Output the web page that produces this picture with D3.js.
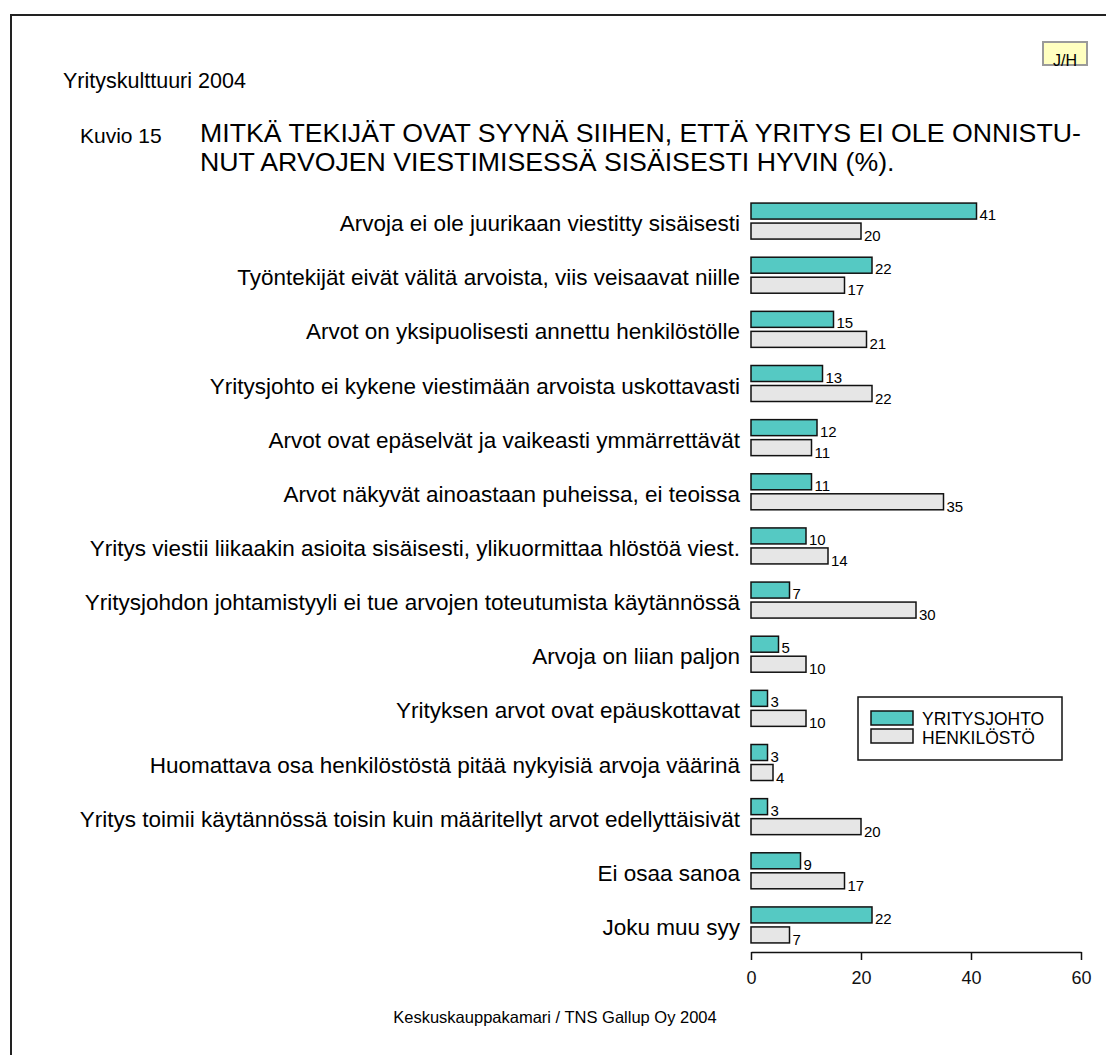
<!DOCTYPE html>
<html>
<head>
<meta charset="utf-8">
<script src="https://cdn.jsdelivr.net/npm/d3@7"></script>
<style>
  body { margin: 0; background: #fff; }
  svg { display: block; font-family: "Liberation Sans", Arial, sans-serif; }
</style>
</head>
<body>
<svg class="graph" width="1106" height="1055"></svg>
<script>
// categories (top to bottom)
const categories = [
    'Arvoja ei ole juurikaan viestitty sisäisesti',
    'Työntekijät eivät välitä arvoista, viis veisaavat niille',
    'Arvot on yksipuolisesti annettu henkilöstölle',
    'Yritysjohto ei kykene viestimään arvoista uskottavasti',
    'Arvot ovat epäselvät ja vaikeasti ymmärrettävät',
    'Arvot näkyvät ainoastaan puheissa, ei teoissa',
    'Yritys viestii liikaakin asioita sisäisesti, ylikuormittaa hlöstöä viest.',
    'Yritysjohdon johtamistyyli ei tue arvojen toteutumista käytännössä',
    'Arvoja on liian paljon',
    'Yrityksen arvot ovat epäuskottavat',
    'Huomattava osa henkilöstöstä pitää nykyisiä arvoja väärinä',
    'Yritys toimii käytännössä toisin kuin määritellyt arvot edellyttäisivät',
    'Ei osaa sanoa',
    'Joku muu syy'
];

const seriesNames = ['YRITYSJOHTO', 'HENKILÖSTÖ'];
const yritysjohto = [41, 22, 15, 13, 12, 11, 10, 7, 5, 3, 3, 3, 9, 22];
const henkilosto = [20, 17, 21, 22, 11, 35, 14, 30, 10, 10, 4, 20, 17, 7];
const tickValues = [0, 20, 40, 60];

const colors = ['#55c9c3', '#e6e6e6'];
const font = '"Liberation Sans", Arial, sans-serif';

const svg = d3.select('svg.graph');

// outer frame (continues past the right and bottom edge)
svg.append('rect')
    .attr('x', 11).attr('y', 15)
    .attr('width', 1200).attr('height', 1200)
    .attr('fill', 'none').attr('stroke', '#222').attr('stroke-width', 2);

// J/H tag
svg.append('rect')
    .attr('x', 1043).attr('y', 42).attr('width', 44).attr('height', 23)
    .attr('fill', '#ffffc0').attr('stroke', '#9a9a9a').attr('stroke-width', 2);
svg.append('text')
    .attr('x', 1065).attr('y', 66).attr('text-anchor', 'middle')
    .attr('font-size', 16).text('J/H');

// headings
svg.append('text').attr('x', 63).attr('y', 88).attr('font-size', 21.5).text('Yrityskulttuuri 2004');
svg.append('text').attr('x', 80).attr('y', 143).attr('font-size', 21).text('Kuvio 15');
svg.append('text').attr('x', 200).attr('y', 142).attr('font-size', 26.7)
    .text('MITKÄ TEKIJÄT OVAT SYYNÄ SIIHEN, ETTÄ YRITYS EI OLE ONNISTU-');
svg.append('text').attr('x', 200).attr('y', 171).attr('font-size', 26.7)
    .text('NUT ARVOJEN VIESTIMISESSÄ SISÄISESTI HYVIN (%).');

// scales
const x = d3.scaleLinear().domain([0, 60]).range([751, 1081]);
const y = d3.scaleBand().domain(categories).range([194, 952]);
const barH = 16, gap = 4;

const rows = categories.map((c, i) => ({ c, vals: [yritysjohto[i], henkilosto[i]] }));

const groups = svg.selectAll('g.row').data(rows).enter().append('g')
    .attr('class', 'row')
    .attr('transform', d => `translate(0, ${y(d.c) + y.bandwidth() / 2})`);

groups.append('text')
    .attr('x', 740).attr('y', 10).attr('text-anchor', 'end')
    .attr('font-size', 22.5).text(d => d.c);

const bars = groups.selectAll('g.bar').data(d => d.vals).enter().append('g').attr('class', 'bar');

bars.append('rect')
    .attr('x', x(0))
    .attr('y', (d, i) => i === 0 ? -gap / 2 - barH : gap / 2)
    .attr('width', d => x(d) - x(0))
    .attr('height', barH)
    .attr('fill', (d, i) => colors[i])
    .attr('stroke', '#111').attr('stroke-width', 1.5);

bars.append('text')
    .attr('x', d => x(d) + 3)
    .attr('y', (d, i) => i === 0 ? -gap / 2 + 1 : gap / 2 + barH + 2)
    .attr('font-size', 15)
    .text(d => d);

// x axis
const axis = svg.append('g')
    .attr('transform', 'translate(0, 952)')
    .call(d3.axisBottom(x).tickValues(tickValues).tickSize(8).tickSizeOuter(0).tickPadding(11));
axis.select('.domain').attr('stroke', '#111').attr('stroke-width', 1.5);
axis.selectAll('.tick line').attr('stroke', '#111').attr('stroke-width', 1.5);
axis.selectAll('.tick text')
    .attr('font-size', 18).attr('font-family', font)
    .attr('fill', '#111');

// legend
const legend = svg.append('g');
legend.append('rect')
    .attr('x', 858).attr('y', 697).attr('width', 204).attr('height', 63)
    .attr('fill', '#fff').attr('stroke', '#111').attr('stroke-width', 1.5);
seriesNames.forEach((name, i) => {
    legend.append('rect')
        .attr('x', 871).attr('y', 711 + i * 18).attr('width', 42).attr('height', 14)
        .attr('fill', colors[i]).attr('stroke', '#111').attr('stroke-width', 1.5);
    legend.append('text')
        .attr('x', 922).attr('y', 725 + i * 19).attr('font-size', 17.5).text(name);
});

// footer
svg.append('text')
    .attr('x', 555).attr('y', 1023).attr('text-anchor', 'middle')
    .attr('font-size', 16.5).text('Keskuskauppakamari / TNS Gallup Oy 2004');
</script>
</body>
</html>
